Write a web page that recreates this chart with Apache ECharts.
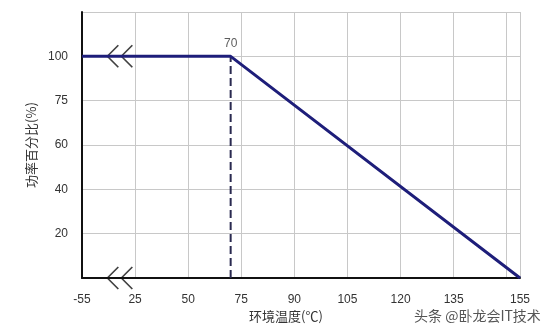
<!DOCTYPE html>
<html>
<head>
<meta charset="utf-8">
<script src="https://cdn.jsdelivr.net/npm/echarts@6/dist/echarts.min.js"></script>
<style>html,body{margin:0;padding:0;background:#fff}#c{width:553px;height:335px}</style>
</head>
<body>
<div id="c"></div>
<script>
// Axis tick values (non-uniform, drawn at equal spacing) and their slot positions
var xTickValues = [-55, 25, 50, 75, 90, 105, 120, 135, 150, 155];
var xTickSlots  = [0, 1, 2, 3, 4, 5, 6, 7, 8, 8.25];
var xTickLabels = ['-55', '25', '50', '75', '90', '105', '120', '135', '', '155'];
var yTickValues = [0, 20, 40, 60, 75, 100, 125];
var yTickSlots  = [0, 1, 2, 3, 4, 5, 6];
var yTickLabels = ['', '20', '40', '60', '75', '100', ''];

// Derating curve: temperature (°C) vs power percentage (%)
var curveTemp  = [-55, 70, 155];
var curvePower = [100, 100, 0];
// Dashed guide at the knee
var kneeTemp = [70, 70];
var kneePower = [0, 100];
var kneeLabel = '70';
// Axis-break markers
var breakTemp = [2, 2];
var breakPower = [100, 0];

function interp(v, vals, slots) {
  for (var i = 0; i < vals.length - 1; i++) {
    if (v >= vals[i] && v <= vals[i + 1]) {
      return slots[i] + (v - vals[i]) / (vals[i + 1] - vals[i]) * (slots[i + 1] - slots[i]);
    }
  }
  return v < vals[0] ? slots[0] : slots[slots.length - 1];
}
function sx(v) { return interp(v, xTickValues, xTickSlots); }
function sy(v) { return interp(v, yTickValues, yTickSlots); }
function labelAt(p, slots, labels) {
  for (var i = 0; i < slots.length; i++) if (Math.abs(slots[i] - p) < 1e-6) return labels[i];
  return '';
}

var curveData = curveTemp.map(function (t, i) { return [sx(t), sy(curvePower[i])]; });
var kneeData = kneeTemp.map(function (t, i) { return [sx(t), sy(kneePower[i])]; });
var breakData = breakTemp.map(function (t, i) { return [sx(t), sy(breakPower[i])]; });
var kneeTop = [[sx(kneeTemp[1]), sy(kneePower[1])]];

var labelFont = {color: '#333', fontSize: 12, fontFamily: 'Liberation Sans, Arial, sans-serif'};
var chart = echarts.init(document.getElementById('c'), null, {renderer: 'canvas'});
chart.setOption({
  animation: false,
  backgroundColor: '#fff',
  grid: {left: 82, right: 33, top: 12, bottom: 57},
  xAxis: {
    type: 'value', min: 0, max: 8.25, interval: 1,
    axisLine: {show: true, onZero: false, lineStyle: {color: '#111', width: 2}},
    axisTick: {show: false},
    splitLine: {show: true, lineStyle: {color: '#c8c8c8', width: 1}},
    axisLabel: Object.assign({margin: 16, showMaxLabel: true, showMinLabel: true, hideOverlap: false,
      formatter: function (v) { return labelAt(v, xTickSlots, xTickLabels); }}, labelFont)
  },
  yAxis: {
    type: 'value', min: 0, max: 6, interval: 1,
    name: '功率百分比(%)', nameLocation: 'middle', nameGap: 44, nameRotate: 90,
    nameTextStyle: {color: '#333', fontSize: 13, fontFamily: 'Noto Sans CJK SC, sans-serif'},
    axisLine: {show: true, onZero: false, lineStyle: {color: '#111', width: 2}},
    axisTick: {show: false},
    splitLine: {show: true, lineStyle: {color: '#c8c8c8', width: 1}},
    axisLabel: Object.assign({margin: 14,
      formatter: function (v) { return labelAt(v, yTickSlots, yTickLabels); }}, labelFont)
  },
  graphic: [
    {type: 'text', left: 249, top: 310, style: {text: '环境温度(℃)', fill: '#333', font: '13px "Noto Sans CJK SC", sans-serif'}},
    {type: 'text', left: 414, top: 309, style: {text: '头条 @卧龙会IT技术', fill: '#555', font: '14px "Noto Sans CJK SC", sans-serif'}}
  ],
  series: [
    {
      type: 'scatter', data: breakData, z: 3,
      symbol: 'path://M11,0 L0,11 L11,22 M25,0 L14,11 L25,22',
      symbolSize: [25, 22], symbolKeepAspect: false,
      itemStyle: {color: 'none', borderColor: '#111', borderWidth: 1.5},
      silent: true
    },
    {
      type: 'line', data: kneeData, symbol: 'none', z: 2,
      lineStyle: {color: '#2a2a50', width: 2, type: [8, 4]}
    },
    {
      type: 'line', data: curveData, symbol: 'none', z: 4,
      lineStyle: {color: '#1e1e7a', width: 3}
    },
    {
      type: 'scatter', data: kneeTop, symbolSize: 1, z: 5,
      itemStyle: {color: 'rgba(0,0,0,0)'},
      label: {show: true, position: 'top', distance: 6, formatter: kneeLabel,
        color: '#333', fontSize: 12, fontFamily: 'Liberation Sans, Arial, sans-serif'}
    }
  ]
});
</script>
</body>
</html>
